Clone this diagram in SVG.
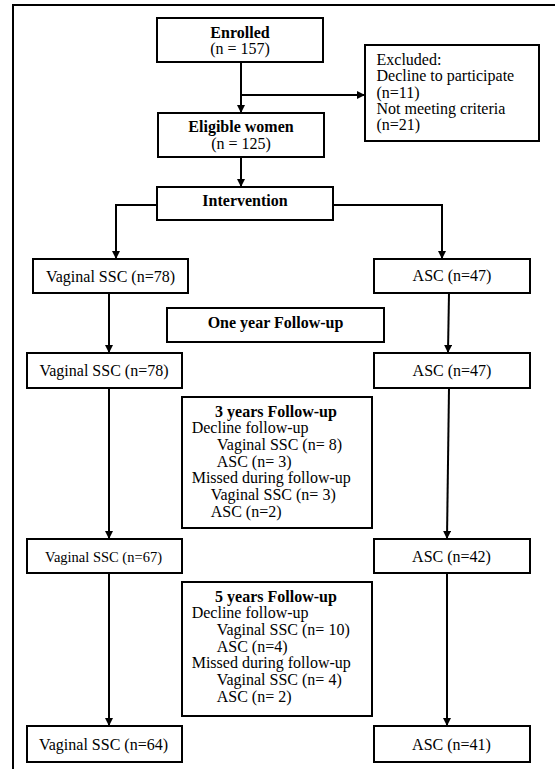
<svg xmlns="http://www.w3.org/2000/svg" width="555" height="769" viewBox="0 0 555 769">
<style>
  .box { fill: #fff; stroke: #000; stroke-width: 2; }
  .t { font-family: "Liberation Serif", "Times New Roman", serif; font-size: 16px; fill: #000; }
  .b { font-weight: bold; }
  .c { text-anchor: middle; }
  .ln { fill: none; stroke: #000; stroke-width: 2; }
</style>
<defs>
  <marker id="arr" markerUnits="userSpaceOnUse" markerWidth="8" markerHeight="8" refX="7" refY="4" orient="auto">
    <path d="M0,0 L8,4 L0,8 z" fill="#000"/>
  </marker>
</defs>
<rect width="555" height="769" fill="#fff"/>
<rect x="13" y="5" width="600" height="800" fill="none" stroke="#000" stroke-width="2"/>

<g id="connectors">
  <path class="ln" d="M241,62 L241,112" marker-end="url(#arr)"/>
  <path class="ln" d="M241,95 L364,95" marker-end="url(#arr)"/>
  <path class="ln" d="M241,157 L241,186" marker-end="url(#arr)"/>
  <path class="ln" d="M157,205 L116,205 L116,258" marker-end="url(#arr)"/>
  <path class="ln" d="M333,205 L442,205 L442,258" marker-end="url(#arr)"/>
  <path class="ln" d="M109,293 L109,352" marker-end="url(#arr)"/>
  <path class="ln" d="M449,293 L448,352" marker-end="url(#arr)"/>
  <path class="ln" d="M109,388 L109,538" marker-end="url(#arr)"/>
  <path class="ln" d="M449,388 L447,538" marker-end="url(#arr)"/>
  <path class="ln" d="M109,573 L109,725" marker-end="url(#arr)"/>
  <path class="ln" d="M447,573 L447,725" marker-end="url(#arr)"/>
</g>

<g id="enrolled">
  <rect class="box" x="157" y="18" width="166" height="44"/>
  <text class="t b c" x="240" y="37.5">Enrolled</text>
  <text class="t c" x="240" y="53.5">(n = 157)</text>
</g>

<g id="excluded">
  <rect class="box" x="365" y="45" width="174" height="96"/>
  <text class="t" x="376.5" y="65">Excluded:</text>
  <text class="t" x="376.5" y="81.3">Decline to participate</text>
  <text class="t" x="376.5" y="97.6">(n=11)</text>
  <text class="t" x="376.5" y="113.9">Not meeting criteria</text>
  <text class="t" x="376.5" y="130.2">(n=21)</text>
</g>

<g id="eligible">
  <rect class="box" x="158" y="113" width="166" height="44"/>
  <text class="t b c" x="241" y="131.7">Eligible women</text>
  <text class="t c" x="241" y="149">(n = 125)</text>
</g>

<g id="intervention">
  <rect class="box" x="157" y="187" width="176" height="33"/>
  <text class="t b c" x="245" y="206">Intervention</text>
</g>

<g id="vaginal1">
  <rect class="box" x="33" y="259" width="155" height="34"/>
  <text class="t c" x="110.5" y="281.7">Vaginal SSC (n=78)</text>
</g>
<g id="asc1">
  <rect class="box" x="374" y="259" width="156" height="34"/>
  <text class="t c" x="452" y="281">ASC (n=47)</text>
</g>

<g id="oneyear">
  <rect class="box" x="167" y="308" width="217" height="34"/>
  <text class="t b c" x="275.5" y="327.5">One year Follow-up</text>
</g>

<g id="vaginal2">
  <rect class="box" x="27" y="353" width="155" height="35"/>
  <text class="t c" x="104" y="376">Vaginal SSC (n=78)</text>
</g>
<g id="asc2">
  <rect class="box" x="374" y="353" width="156" height="35"/>
  <text class="t c" x="452" y="375.5">ASC (n=47)</text>
</g>

<g id="threeyears">
  <rect class="box" x="182" y="397" width="190" height="131"/>
  <text class="t b c" x="276" y="416.7">3 years Follow-up</text>
  <text class="t" x="191.7" y="433.4">Decline follow-up</text>
  <text class="t" x="217" y="450">Vaginal SSC (n= 8)</text>
  <text class="t" x="216.7" y="466.7">ASC (n= 3)</text>
  <text class="t" x="191.7" y="483.4">Missed during follow-up</text>
  <text class="t" x="210.7" y="500">Vaginal SSC (n= 3)</text>
  <text class="t" x="210.7" y="516.7">ASC (n=2)</text>
</g>

<g id="vaginal3">
  <rect class="box" x="27" y="539" width="155" height="34"/>
  <text class="t c" x="103.5" y="561.5" style="font-size:14.5px">Vaginal SSC (n=67)</text>
</g>
<g id="asc3">
  <rect class="box" x="374" y="539" width="156" height="34"/>
  <text class="t c" x="451.5" y="562">ASC (n=42)</text>
</g>

<g id="fiveyears">
  <rect class="box" x="182" y="582" width="190" height="134"/>
  <text class="t b c" x="276" y="601.7">5 years Follow-up</text>
  <text class="t" x="191.7" y="618.4">Decline follow-up</text>
  <text class="t" x="216.7" y="635">Vaginal SSC (n= 10)</text>
  <text class="t" x="216.7" y="651.7">ASC (n=4)</text>
  <text class="t" x="191.7" y="668.4">Missed during follow-up</text>
  <text class="t" x="216.7" y="685">Vaginal SSC (n= 4)</text>
  <text class="t" x="216.7" y="701.7">ASC (n= 2)</text>
</g>

<g id="vaginal4">
  <rect class="box" x="27" y="726" width="155" height="36"/>
  <text class="t c" x="103.5" y="750">Vaginal SSC (n=64)</text>
</g>
<g id="asc4">
  <rect class="box" x="374" y="726" width="156" height="36"/>
  <text class="t c" x="451.5" y="750">ASC (n=41)</text>
</g>
</svg>
